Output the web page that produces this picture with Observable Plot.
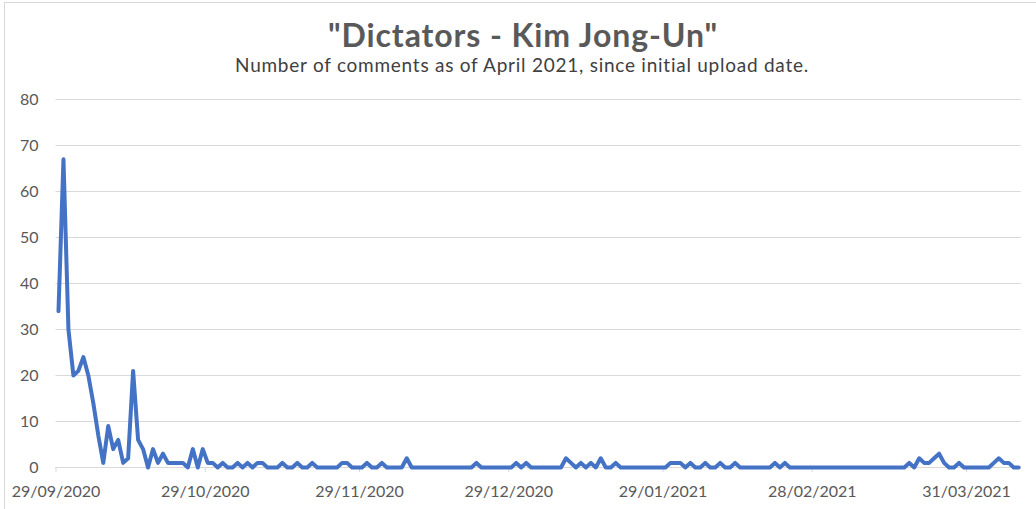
<!DOCTYPE html>
<html>
<head>
<meta charset="utf-8">
<script src="https://cdn.jsdelivr.net/npm/d3@7"></script>
<script src="https://cdn.jsdelivr.net/npm/@observablehq/plot@0.6"></script>
<style>
  html, body { margin: 0; padding: 0; background: #fff; }
  #chart { position: relative; width: 1036px; height: 509px; overflow: hidden; font-family: Lato, "Open Sans", sans-serif; }
  #frame { position: absolute; left: 4px; top: 2px; right: -2px; bottom: -2px; border-left: 1px solid #d9d9d9; border-top: 1px solid #d9d9d9; pointer-events: none; }
  #header { position: relative; height: 88px; }
  .title { position: absolute; left: 10px; width: 1026px; top: 19px; text-align: center; font-size: 32px; line-height: 32px; letter-spacing: 0.9px; font-weight: 700; color: #595959; white-space: nowrap; }
  .subtitle { position: absolute; left: 8px; width: 1028px; top: 55px; text-align: center; font-size: 19px; line-height: 19px; letter-spacing: 0.75px; color: #404040; white-space: nowrap; }
  #plot svg { display: block; }
</style>
</head>
<body>
<div id="chart">
  <div id="header">
    <div class="title">"Dictators - Kim Jong-Un"</div>
    <div class="subtitle">Number of comments as of April 2021, since initial upload date.</div>
  </div>
  <div id="plot"></div>
  <div id="frame"></div>
</div>
<script>
// Daily comment counts, starting on the upload day.
const uploadDate = new Date(Date.UTC(2020, 8, 29));
const dailyComments = [
  34, 67, 30, 20, 21, 24, 20, 14, 7, 1,
  9, 4, 6, 1, 2, 21, 6, 4, 0, 4,
  1, 3, 1, 1, 1, 1, 0, 4, 0, 4,
  1, 1, 0, 1, 0, 0, 1, 0, 1, 0,
  1, 1, 0, 0, 0, 1, 0, 0, 1, 0,
  0, 1, 0, 0, 0, 0, 0, 1, 1, 0,
  0, 0, 1, 0, 0, 1, 0, 0, 0, 0,
  2, 0, 0, 0, 0, 0, 0, 0, 0, 0,
  0, 0, 0, 0, 1, 0, 0, 0, 0, 0,
  0, 0, 1, 0, 1, 0, 0, 0, 0, 0,
  0, 0, 2, 1, 0, 1, 0, 1, 0, 2,
  0, 0, 1, 0, 0, 0, 0, 0, 0, 0,
  0, 0, 0, 1, 1, 1, 0, 1, 0, 0,
  1, 0, 0, 1, 0, 0, 1, 0, 0, 0,
  0, 0, 0, 0, 1, 0, 1, 0, 0, 0,
  0, 0, 0, 0, 0, 0, 0, 0, 0, 0,
  0, 0, 0, 0, 0, 0, 0, 0, 0, 0,
  0, 1, 0, 2, 1, 1, 2, 3, 1, 0,
  0, 1, 0, 0, 0, 0, 0, 0, 1, 2,
  1, 1, 0, 0
];

// Axis ticks
const xTickDates = ["2020-09-29", "2020-10-29", "2020-11-29", "2020-12-29", "2021-01-29", "2021-02-28", "2021-03-31"];
const yTicks = [0, 10, 20, 30, 40, 50, 60, 70, 80];

const rows = dailyComments.map((count, i) => ({ date: d3.utcDay.offset(uploadDate, i), count }));
const xTicks = xTickDates.map(s => new Date(s + "T00:00:00Z"));
const lastDay = d3.utcDay.offset(uploadDate, dailyComments.length);

const chart = Plot.plot({
  width: 1036,
  height: 421,
  marginLeft: 55.5,
  marginRight: 15.3,
  marginTop: 11,
  marginBottom: 42,
  style: { fontFamily: "Lato, 'Open Sans', sans-serif", fontSize: "16px", color: "#595959", background: "transparent", overflow: "visible" },
  x: { type: "utc", domain: [uploadDate, lastDay] },
  y: { domain: [0, 80] },
  marks: [
    Plot.gridY(yTicks, { stroke: "#d9d9d9", strokeOpacity: 1, strokeWidth: 1 }),
    Plot.axisY(yTicks, { tickSize: 0, tickPadding: 17.5, label: null, fill: "#595959" }),
    Plot.axisX(xTicks, { tickSize: 5, tickPadding: 13, stroke: "#d9d9d9", label: null, fill: "#595959", tickFormat: d3.utcFormat("%d/%m/%Y") }),
    Plot.ruleY([0], { stroke: "#d9d9d9", strokeWidth: 1 }),
    // each day's value sits in the middle of its slot on the date axis
    Plot.lineY(rows, { x: d => d3.utcHour.offset(d.date, 12), y: "count", stroke: "#4472C4", strokeWidth: 4, strokeLinejoin: "round" })
  ]
});
document.getElementById("plot").appendChild(chart);
</script>
</body>
</html>
